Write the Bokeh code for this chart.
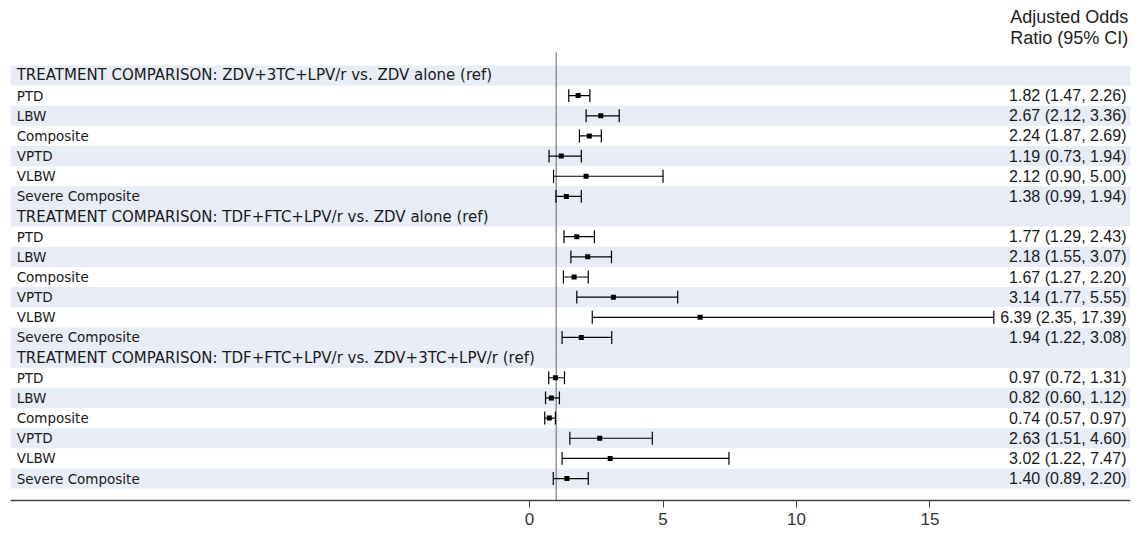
from bokeh.plotting import figure
from bokeh.models import ColumnDataSource, Range1d, FixedTicker
from bokeh.core.properties import value
from bokeh.embed import file_html
from bokeh.resources import INLINE

# ---------------- data ----------------
group_titles = [
    "TREATMENT COMPARISON: ZDV+3TC+LPV/r vs. ZDV alone (ref)",
    "TREATMENT COMPARISON: TDF+FTC+LPV/r vs. ZDV alone (ref)",
    "TREATMENT COMPARISON: TDF+FTC+LPV/r vs. ZDV+3TC+LPV/r (ref)",
]
outcomes = ["PTD", "LBW", "Composite", "VPTD", "VLBW", "Severe Composite"]

or_g1 = [1.82, 2.67, 2.24, 1.19, 2.12, 1.38]
lo_g1 = [1.47, 2.12, 1.87, 0.73, 0.90, 0.99]
hi_g1 = [2.26, 3.36, 2.69, 1.94, 5.00, 1.94]

or_g2 = [1.77, 2.18, 1.67, 3.14, 6.39, 1.94]
lo_g2 = [1.29, 1.55, 1.27, 1.77, 2.35, 1.22]
hi_g2 = [2.43, 3.07, 2.20, 5.55, 17.39, 3.08]

or_g3 = [0.97, 0.82, 0.74, 2.63, 3.02, 1.40]
lo_g3 = [0.72, 0.60, 0.57, 1.51, 1.22, 0.89]
hi_g3 = [1.31, 1.12, 0.97, 4.60, 7.47, 2.20]

ref_or = 1.0
x_ticks = [0, 5, 10, 15]
header_lines = ["Adjusted Odds", "Ratio (95% CI)"]

# ---------------- layout constants ----------------
x_start, x_end = -19.44, 22.51
y_bottom, y_top = 21.09, -3.72

# ---------------- build rows ----------------
labels, rows, is_title = [], [], []
pt_or, pt_lo, pt_hi, pt_row, val_txt = [], [], [], [], []
r = 0
for title, o, lo, hi in zip(group_titles, [or_g1, or_g2, or_g3],
                            [lo_g1, lo_g2, lo_g3], [hi_g1, hi_g2, hi_g3]):
    labels.append(title)
    rows.append(r)
    is_title.append(True)
    r += 1
    for name, ov, lv, hv in zip(outcomes, o, lo, hi):
        labels.append(name)
        rows.append(r)
        is_title.append(False)
        pt_or.append(ov)
        pt_lo.append(lv)
        pt_hi.append(hv)
        pt_row.append(r)
        val_txt.append(f"{ov:.2f} ({lv:.2f}, {hv:.2f})")
        r += 1

shade_rows = [rw for rw in rows if (rw % 7) % 2 == 0]

p = figure(width=1140, height=535,
           x_range=Range1d(x_start, x_end), y_range=Range1d(y_bottom, y_top),
           output_backend="svg", toolbar_location=None, y_axis_location=None,
           min_border_left=10, min_border_right=10, min_border_top=0,
           min_border_bottom=35, outline_line_color=None)
p.grid.visible = False
p.background_fill_color = "white"

p.hbar(y=shade_rows, left=x_start, right=x_end, height=1.0,
       fill_color="#E8ECF5", line_color=None)

# reference line
p.segment(x0=[ref_or], x1=[ref_or], y0=[-1.15], y1=[y_bottom],
          line_color="#7a7a7a", line_width=1.2)

src = ColumnDataSource(dict(orv=pt_or, lo=pt_lo, hi=pt_hi, y=pt_row,
                            ylo=[v - 0.32 for v in pt_row],
                            yhi=[v + 0.32 for v in pt_row], txt=val_txt))
p.segment(x0="lo", x1="hi", y0="y", y1="y", source=src,
          line_color="black", line_width=1.2)
p.segment(x0="lo", x1="lo", y0="ylo", y1="yhi", source=src,
          line_color="black", line_width=1.2)
p.segment(x0="hi", x1="hi", y0="ylo", y1="yhi", source=src,
          line_color="black", line_width=1.2)
p.scatter(x="orv", y="y", source=src, marker="square", size=5,
          fill_color="black", line_color=None)

# left labels
t_rows = [rw for rw, t in zip(rows, is_title) if t]
t_lab = [lb for lb, t in zip(labels, is_title) if t]
o_rows = [rw for rw, t in zip(rows, is_title) if not t]
o_lab = [lb for lb, t in zip(labels, is_title) if not t]
p.text(x=[-19.21] * len(t_lab), y=t_rows, text=t_lab,
       text_font=value("DejaVu Sans"), text_font_size="15px",
       text_color="#1a1a1a", text_baseline="middle", text_align="left")
p.text(x=[-19.21] * len(o_lab), y=o_rows, text=o_lab,
       text_font=value("DejaVu Sans"), text_font_size="13.5px",
       text_color="#1a1a1a", text_baseline="middle", text_align="left")

# value column
p.text(x=[22.36] * len(val_txt), y=pt_row, text=val_txt,
       text_font=value("Liberation Sans"), text_font_size="16px",
       text_color="#1a1a1a", text_baseline="middle", text_align="right")

# header
p.text(x=[22.43, 22.43], y=[-2.88, -1.84], text=header_lines,
       text_font=value("Liberation Sans"), text_font_size="18px",
       text_color="#222222", text_baseline="middle", text_align="right")

ax = p.xaxis[0]
ax.ticker = FixedTicker(ticks=x_ticks)
ax.minor_tick_line_color = None
ax.major_tick_in = 0
ax.major_tick_out = 7
ax.major_tick_line_color = "#444444"
ax.axis_line_color = "#444444"
ax.axis_line_width = 1.6
ax.major_label_text_font = "Liberation Sans"
ax.major_label_text_font_size = "17px"
ax.major_label_text_color = "#333333"
ax.major_label_standoff = 5

open("out.html", "w").write(file_html(p, INLINE))
